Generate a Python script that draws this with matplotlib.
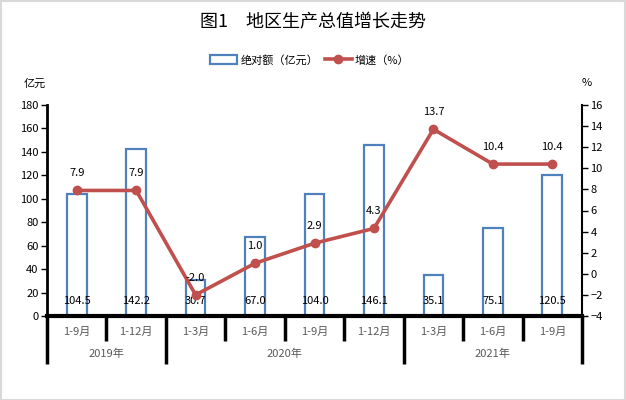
import matplotlib
matplotlib.use("Agg")
import matplotlib.pyplot as plt
from matplotlib.patches import Patch, Rectangle
from matplotlib.lines import Line2D
import matplotlib.transforms as mtransforms

plt.rcParams['font.family'] = ['Noto Sans CJK SC', 'DejaVu Sans']

months = ["1-9月", "1-12月", "1-3月", "1-6月", "1-9月", "1-12月", "1-3月", "1-6月", "1-9月"]
years = ["2019年", "2020年", "2021年"]
year_counts = [2, 4, 3]
amount = [104.5, 142.2, 30.7, 67.0, 104.0, 146.1, 35.1, 75.1, 120.5]
growth = [7.9, 7.9, -2.0, 1.0, 2.9, 4.3, 13.7, 10.4, 10.4]

BLUE = "#4F81BD"
RED = "#C0504D"
AX_BOTTOM = 316.0
AX_TOP = 105.0

fig = plt.figure(figsize=(6.26, 4.0), dpi=100)
fig.patches.append(Rectangle((0.001, 0.001), 0.997, 0.996, transform=fig.transFigure,
                             fill=False, edgecolor="#d9d9d9", linewidth=1.5))
ax = fig.add_axes([47/626, 1-AX_BOTTOM/400, (582-47)/626, (AX_BOTTOM-AX_TOP)/400])
ax2 = ax.twinx()

x = list(range(len(months)))
ax.bar(x, amount, width=0.33, facecolor="white", edgecolor=BLUE, linewidth=1.6, zorder=2)
ax.set_xlim(-0.5, len(months) - 0.5)
ax.set_ylim(0, 180)
ax.set_yticks(range(0, 181, 20))
ax2.set_ylim(-4, 16)
ax2.set_yticks(range(-4, 17, 2))

ax2.plot(x, growth, color=RED, linewidth=2.6, marker="o", markersize=6, zorder=5)

for i, v in enumerate(amount):
    ax.annotate(f"{v:.1f}", (i, 0), xytext=(0, 10.5), textcoords="offset points",
                ha="center", va="center", fontsize=8, color="black", zorder=6)
for i, v in enumerate(growth):
    ax2.annotate(f"{v:.1f}", (i, v), xytext=(0, 12.5), textcoords="offset points",
                 ha="center", va="center", fontsize=8, color="black", zorder=6)

for a in (ax, ax2):
    a.spines["top"].set_visible(False)
    a.tick_params(axis="y", labelsize=8, colors="black", direction="out", length=4, width=1)
ax.spines["left"].set_linewidth(2)
ax.spines["right"].set_visible(False)
ax2.spines["left"].set_visible(False)
ax2.spines["bottom"].set_visible(False)
ax2.spines["right"].set_linewidth(1.5)
ax.spines["bottom"].set_linewidth(3)
ax.set_xticks([])
ax.tick_params(axis="y", pad=2)
ax2.tick_params(axis="y", pad=2)

# category axis
trans = mtransforms.blended_transform_factory(ax.transData, ax.transAxes)
h = AX_BOTTOM - AX_TOP
def yoff(py):
    return -(py - AX_BOTTOM) / h

for i, m in enumerate(months):
    ax.text(i, yoff(332), m, transform=trans, ha="center", va="center",
            fontsize=8, color="#595959")
bounds = [0]
for c in year_counts:
    bounds.append(bounds[-1] + c)
year_bounds = set(bounds)
for b in range(len(months) + 1):
    xb = b - 0.5
    depth = 364 if b in year_bounds else 341
    ax.add_line(Line2D([xb, xb], [0, yoff(depth)], transform=trans, color="black",
                       linewidth=2.5, clip_on=False, solid_capstyle="butt"))
for k, yl in enumerate(years):
    cx = (bounds[k] + bounds[k + 1]) / 2 - 0.5
    ax.text(cx, yoff(354), yl, transform=trans, ha="center", va="center",
            fontsize=8, color="#595959")

fig.text(313 / 626, 1 - 22 / 400, "图1　地区生产总值增长走势", ha="center", va="center",
         fontsize=13, color="black")
fig.text(35 / 626, 1 - 84 / 400, "亿元", ha="center", va="center", fontsize=8)
fig.text(587 / 626, 1 - 83 / 400, "%", ha="center", va="center", fontsize=8)

handles = [Patch(facecolor="white", edgecolor=BLUE, linewidth=1.6),
           Line2D([], [], color=RED, linewidth=2.6, marker="o", markersize=6)]
fig.legend(handles, ["绝对额（亿元）", "增速（%）"], loc="center", ncol=2,
           bbox_to_anchor=(310 / 626, 1 - 60 / 400), frameon=False, fontsize=8,
           handlelength=2.4, handleheight=0.8, columnspacing=0.6, handletextpad=0.3)

fig.savefig("out.png", dpi=100)
